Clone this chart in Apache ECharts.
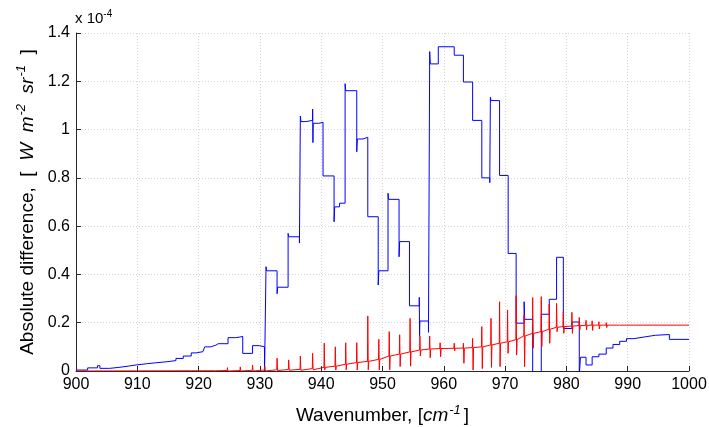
<!DOCTYPE html>
<html>
<head>
<meta charset="utf-8">
<script src="https://cdn.jsdelivr.net/npm/echarts@6/dist/echarts.min.js"></script>
<style>
  html, body { margin: 0; padding: 0; background: #fff; }
  #chart { width: 709px; height: 427px; }
</style>
</head>
<body>
<div id="chart"></div>
<script>
// ---- Data (values in units of 1e-4 W m^-2 sr^-1) ----
const xTicks = [900, 910, 920, 930, 940, 950, 960, 970, 980, 990, 1000];
const yTicks = [0, 0.2, 0.4, 0.6, 0.8, 1, 1.2, 1.4];

// Blue: step levels; each level holds from its wavenumber to the next one
const blueStepWn = [900, 901.9, 903.5, 903.9, 905.5, 907, 908.5, 909.8, 911.5, 913, 914.7, 916.3, 917.5, 918.8, 919.6, 920.7, 921.0, 922.0, 922.8, 923.2, 923.4, 924.8, 926.0, 926.6, 927.2, 928.8, 929.9, 930.75,
  931.0, 931.1, 932.8, 932.9, 934.6, 934.7, 936.45, 936.6, 936.7, 937.5, 938.6, 938.65, 938.7, 939.6, 940.3, 942.1, 942.2, 943.0, 943.9, 944.0, 945.8, 945.9, 946.8, 947.6,
  949.3, 949.4, 950.9, 951.0, 952.7, 952.8, 954.4, 956.0, 956.05, 956.1, 957.5, 957.7, 957.8, 959.1, 961.7, 963.2, 964.7, 966.2, 967.5, 967.6, 967.7, 969.1,
  970.5, 971.8, 973.1, 973.2, 974.5, 975.9, 977.2, 978.4, 979.5, 980.9, 982.1, 982.3, 983.2, 984.2, 985.3, 986.5, 987.6, 988.7, 989.8, 991.0, 993.0, 994.5, 996.8, 1000];
const blueStepVal = [0.004, 0.013, 0.022, 0.011, 0.015, 0.020, 0.025, 0.030, 0.034, 0.038, 0.043, 0.052, 0.062, 0.075, 0.080, 0.086, 0.100, 0.107, 0.113, 0.120, 0.113, 0.138, 0.140, 0.143, 0.073, 0.105, 0.100, -0.02,
  0.432, 0.415, 0.320, 0.347, 0.570, 0.556, 0.530, 1.056, 1.033, 1.038, 1.085, 0.946, 1.026, 1.030, 0.808, 0.618, 0.680, 0.695, 1.190, 1.161, 0.908, 0.961, 0.968, 0.639,
  0.356, 0.415, 0.736, 0.711, 0.473, 0.536, 0.270, 0.305, 0.146, 0.207, 0.160, 1.323, 1.272, 1.343, 1.308, 1.197, 1.038, 0.800, 0.780, 1.134, 1.120, 0.810,
  0.487, 0.198, 0.287, 0.214, -0.02, 0.235, 0.297, 0.471, 0.176, 0.203, -0.02, 0.057, 0.025, 0.059, 0.070, 0.095, 0.110, 0.123, 0.134, 0.142, 0.148, 0.151, 0.131, 0.131];

// Red: smooth baseline with a spike (up then down) at each line position
const redSpikeWn   = [918.9, 920.7, 922.8, 924.7, 926.8, 928.8, 930.8, 932.8, 934.7, 936.6, 938.6, 940.5, 942.3, 944.0, 945.8, 947.6, 949.4, 951.1, 952.8, 954.5, 956.1, 957.7, 959.4, 961.7, 963.2, 964.7, 966.2, 967.7, 969.1, 970.4, 971.8, 973.1, 974.5, 975.9, 977.2, 978.4, 979.5, 980.9, 982.1, 983.2, 984.2, 985.3, 986.5, 987.6, 988.7, 989.8, 991.0];
const redSpikeBase = [0.001, 0.001, 0.001, 0.002, 0.002, 0.003, 0.004, 0.005, 0.006, 0.007, 0.010, 0.015, 0.020, 0.028, 0.035, 0.040, 0.048, 0.062, 0.070, 0.079, 0.087, 0.091, 0.093, 0.094, 0.095, 0.097, 0.100, 0.108, 0.115, 0.121, 0.130, 0.145, 0.156, 0.163, 0.173, 0.181, 0.184, 0.186, 0.188, 0.189, 0.190, 0.190, 0.190, 0.190, 0.190, 0.190, 0.190];
const redSpikeUp   = [0.006, 0.006, 0.008, 0.014, 0.017, 0.025, 0.020, 0.053, 0.046, 0.062, 0.073, 0.115, 0.100, 0.117, 0.117, 0.228, 0.131, 0.163, 0.150, 0.218, 0.145, 0.145, 0.117, 0.115, 0.115, 0.135, 0.184, 0.218, 0.287, 0.253, 0.312, 0.232, 0.304, 0.308, 0.277, 0.280, 0.246, 0.243, 0.222, 0.210, 0.208, 0.204, 0.200, 0.197, 0.195, 0.193, 0.192];
const redSpikeDown = [0.000, 0.000, 0.000, 0.000, 0.000, 0.000, 0.000, 0.002, 0.003, 0.003, 0.005, 0.004, 0.004, 0.005, 0.004, 0.005, 0.004, 0.005, 0.018, 0.020, 0.062, 0.055, 0.059, 0.084, 0.032, 0.004, 0.010, 0.015, 0.018, 0.073, 0.066, 0.018, 0.094, 0.101, 0.115, 0.163, 0.156, 0.156, 0.170, 0.170, 0.168, 0.174, 0.180, 0.183, 0.186, 0.188, 0.189];
const redStart = [900, 0.0];
const redEnd = [1000, 0.19];

// ---- Build series point lists from the arrays ----
const blueData = [];
for (let i = 0; i < blueStepWn.length; i++) {
  blueData.push([blueStepWn[i], blueStepVal[i]]);
  if (i + 1 < blueStepWn.length) blueData.push([blueStepWn[i + 1], blueStepVal[i]]);
}
const redData = [redStart];
for (let i = 0; i < redSpikeWn.length; i++) {
  const w = redSpikeWn[i];
  redData.push([w - 0.05, redSpikeBase[i]]);
  redData.push([w, redSpikeUp[i]]);
  redData.push([w + 0.08, redSpikeDown[i]]);
  redData.push([w + 0.16, redSpikeBase[i]]);
}
redData.push(redEnd);

const FONT = 'Liberation Sans, Arial, sans-serif';
const chart = echarts.init(document.getElementById('chart'), null, { renderer: 'canvas' });
chart.setOption({
  animation: false,
  backgroundColor: '#ffffff',
  grid: { left: 76, right: 20, top: 33, bottom: 56, containLabel: false, outerBoundsMode: 'none' },
  xAxis: {
    type: 'value', min: xTicks[0], max: xTicks[xTicks.length - 1], interval: 10,
    name: 'Wavenumber, [{i|cm}{s|-1}{n|]}',
    nameLocation: 'middle', nameGap: 33,
    nameTextStyle: {
      fontFamily: FONT, fontSize: 19, color: '#000',
      rich: {
        i: { fontFamily: FONT, fontSize: 19, fontStyle: 'italic', color: '#000', lineHeight: 24 },
        s: { fontFamily: FONT, fontSize: 13, fontStyle: 'italic', color: '#000', verticalAlign: 'top', lineHeight: 24, padding: [0, 3, 0, 1] },
        n: { fontFamily: FONT, fontSize: 19, color: '#000', lineHeight: 24 }
      }
    },
    axisLine: { show: true, onZero: false, lineStyle: { color: '#262626', width: 1 } },
    axisTick: { show: true, inside: true, length: 5, lineStyle: { color: '#262626' } },
    axisLabel: {
      fontFamily: FONT, fontSize: 16, color: '#000', margin: 6,
      formatter: function (v) { return String(v); }
    },
    splitLine: { show: true, lineStyle: { color: '#d4d4d4', type: [1, 2], width: 1 } }
  },
  yAxis: {
    type: 'value', min: yTicks[0], max: yTicks[yTicks.length - 1], interval: 0.2,
    name: 'Absolute difference,  [  {i|W  m}{s|-2}  {i|sr}{s|-1}{n|  ]}',
    nameLocation: 'middle', nameGap: 23, nameRotate: 90,
    nameTextStyle: {
      fontFamily: FONT, fontSize: 19, color: '#000',
      rich: {
        i: { fontFamily: FONT, fontSize: 19, fontStyle: 'italic', color: '#000', lineHeight: 24 },
        s: { fontFamily: FONT, fontSize: 13, fontStyle: 'italic', color: '#000', verticalAlign: 'top', lineHeight: 24, padding: [0, 0, 0, 1] },
        n: { fontFamily: FONT, fontSize: 19, color: '#000', lineHeight: 24 }
      }
    },
    axisLine: { show: true, onZero: false, lineStyle: { color: '#262626', width: 1 } },
    axisTick: { show: true, inside: true, length: 5, lineStyle: { color: '#262626' } },
    axisLabel: {
      fontFamily: FONT, fontSize: 16, color: '#000', margin: 6,
      formatter: function (v) { return String(+v.toFixed(1)); }
    },
    splitLine: { show: true, lineStyle: { color: '#d4d4d4', type: [1, 2], width: 1 } }
  },
  graphic: [{
    type: 'text', left: 75, top: 9,
    style: {
      text: 'x 10{s|-4}',
      fontFamily: FONT, fontSize: 15, fill: '#000',
      rich: {
        s: { fontFamily: FONT, fontSize: 10, fill: '#000', verticalAlign: 'top', lineHeight: 19 }
      }
    }
  }],
  series: [
    {
      type: 'line', data: blueData, showSymbol: false, symbol: 'none',
      lineStyle: { color: '#0000ff', width: 1 }, clip: true, z: 2
    },
    {
      type: 'line', data: redData, showSymbol: false, symbol: 'none',
      lineStyle: { color: '#ff0000', width: 1 }, clip: true, z: 3
    }
  ]
});
</script>
</body>
</html>
